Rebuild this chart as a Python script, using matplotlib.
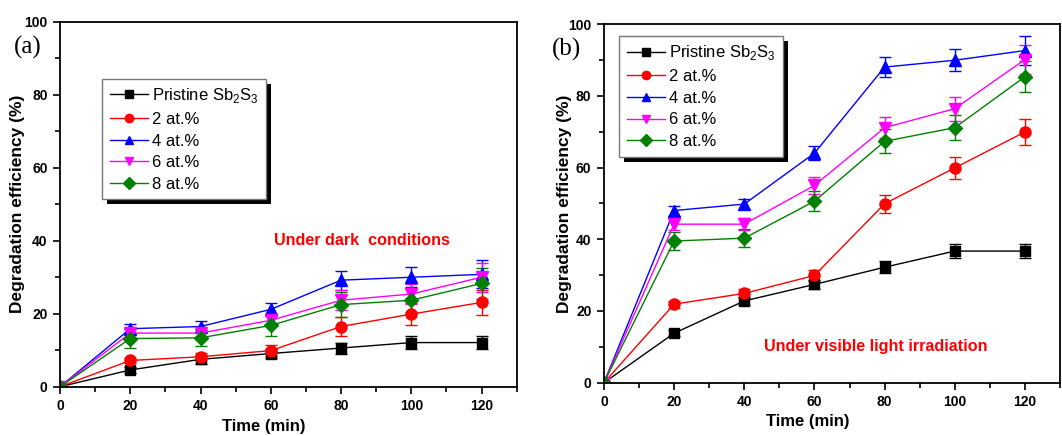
import matplotlib
matplotlib.use("Agg")
import matplotlib.pyplot as plt
from matplotlib.lines import Line2D
from matplotlib.patches import Rectangle
from matplotlib.ticker import MultipleLocator

plt.rcParams['font.family'] = ['Liberation Sans', 'DejaVu Sans']
plt.rcParams['mathtext.fontset'] = 'custom'
plt.rcParams['mathtext.rm'] = 'Liberation Sans'

time_min = [0, 20, 40, 60, 80, 100, 120]
labels = ["Pristine Sb$_\\mathregular{2}$S$_\\mathregular{3}$",
          "2 at.%", "4 at.%", "6 at.%", "8 at.%"]
colors = ["#000000", "#ff0000", "#0000ff", "#ff00ff", "#008000"]
markers = ["s", "o", "^", "v", "D"]
msizes = [7, 8, 8, 8, 7]

# Dark conditions (a)
dark_pristine = [0, 4.6, 7.5, 9.1, 10.6, 12.1, 12.1]
dark_2 = [0, 7.2, 8.2, 9.9, 16.5, 19.9, 23.1]
dark_4 = [0, 15.9, 16.5, 21.2, 29.2, 30.0, 30.8]
dark_6 = [0, 14.7, 14.7, 18.2, 23.7, 25.4, 30.0]
dark_8 = [0, 13.2, 13.4, 16.8, 22.5, 23.7, 28.3]
dark_err_pristine = [0, 0.8, 1.2, 1.3, 1.5, 1.8, 1.8]
dark_err_2 = [0, 0.8, 1.0, 1.5, 2.5, 3.0, 3.5]
dark_err_4 = [0, 1.3, 1.4, 1.8, 2.6, 2.8, 3.8]
dark_err_6 = [0, 1.0, 1.0, 1.5, 2.8, 2.8, 4.0]
dark_err_8 = [0, 2.5, 2.2, 3.0, 3.5, 3.2, 4.3]

# Visible light irradiation (b)
light_pristine = [0, 13.8, 22.8, 27.4, 32.2, 36.7, 36.7]
light_2 = [0, 21.9, 24.9, 29.9, 49.9, 59.9, 69.9]
light_4 = [0, 48.0, 49.8, 64.0, 88.0, 89.9, 92.6]
light_6 = [0, 44.2, 44.2, 55.0, 71.1, 76.4, 90.1]
light_8 = [0, 39.5, 40.3, 50.6, 67.3, 71.1, 85.3]
light_err_pristine = [0, 0.8, 1.0, 1.2, 1.6, 1.9, 1.9]
light_err_2 = [0, 1.0, 1.2, 1.5, 2.5, 3.0, 3.5]
light_err_4 = [0, 1.4, 1.5, 2.0, 2.8, 3.0, 4.0]
light_err_6 = [0, 1.5, 1.6, 2.3, 3.0, 3.3, 4.0]
light_err_8 = [0, 2.5, 2.5, 2.8, 3.3, 3.5, 4.3]

panels = [
    dict(pos=[0.0565, 0.113, 0.430, 0.837], tag="(a)", tag_x=-0.1,
         series=[dark_pristine, dark_2, dark_4, dark_6, dark_8],
         errs=[dark_err_pristine, dark_err_2, dark_err_4, dark_err_6, dark_err_8],
         note="Under dark  conditions", note_xy=(61, 40),
         leg_anchor=(0.092, 0.844), ylab_x=-0.077, xlab_y=-0.088),
    dict(pos=[0.5687, 0.1222, 0.4294, 0.8227], tag="(b)", tag_x=-0.115,
         series=[light_pristine, light_2, light_4, light_6, light_8],
         errs=[light_err_pristine, light_err_2, light_err_4, light_err_6, light_err_8],
         note="Under visible light irradiation", note_xy=(45.5, 10),
         leg_anchor=(0.033, 0.967), ylab_x=-0.071, xlab_y=-0.087),
]

fig = plt.figure(figsize=(10.62, 4.36), dpi=100)
legends = []
for p in panels:
    ax = fig.add_axes(p["pos"])
    for ys, es, c, m, ms in zip(p["series"], p["errs"], colors, markers, msizes):
        ax.errorbar(time_min, ys, yerr=es, color=c, marker=m, markersize=ms,
                    linewidth=1.0, elinewidth=1.0, capsize=4.5, capthick=1.0,
                    ecolor=c)
    ax.set_xlim(0, 130)
    ax.set_ylim(0, 100)
    ax.xaxis.set_major_locator(MultipleLocator(20))
    ax.xaxis.set_minor_locator(MultipleLocator(10))
    ax.yaxis.set_major_locator(MultipleLocator(20))
    ax.yaxis.set_minor_locator(MultipleLocator(10))
    ax.tick_params(which="both", direction="out", top=False, right=False, width=1.2)
    ax.tick_params(which="major", length=5, labelsize=10, pad=4)
    ax.tick_params(which="minor", length=3.5)
    for lbl in ax.get_xticklabels() + ax.get_yticklabels():
        lbl.set_fontweight("bold")
    for sp in ax.spines.values():
        sp.set_linewidth(1.3)
    ax.set_xlabel("Time (min)", fontsize=12, fontweight="bold")
    ax.set_ylabel("Degradation efficiency (%)", fontsize=12.5, fontweight="bold")
    # x label sits centred over the 0-120 data span rather than the full axis
    ax.xaxis.set_label_coords(58 / 130, p["xlab_y"])
    ax.yaxis.set_label_coords(p["ylab_x"], 0.5)
    ax.text(p["tag_x"], 0.93, p["tag"], transform=ax.transAxes, fontsize=18,
            family="Liberation Serif", ha="left", va="center")
    ax.text(p["note_xy"][0], p["note_xy"][1], p["note"], color="#ff0000",
            fontsize=11.6, fontweight="bold", ha="left", va="center")
    handles = [Line2D([], [], color=c, marker=m, markersize=6, linewidth=1.0)
               for c, m in zip(colors, markers)]
    leg = ax.legend(handles, labels, loc="upper left", bbox_to_anchor=p["leg_anchor"],
                    borderaxespad=0, fontsize=12, frameon=True, fancybox=False,
                    framealpha=1, facecolor="white", handlelength=2.3,
                    handletextpad=0.25, labelspacing=0.4, borderpad=0.45)
    leg.get_frame().set_edgecolor("#777777")
    leg.get_frame().set_linewidth(1.0)
    legends.append((ax, leg))

# Solid drop shadow behind each legend box
fig.canvas.draw()
for ax, leg in legends:
    bb = leg.get_frame().get_window_extent()
    off = 5
    x0, y0 = fig.transFigure.inverted().transform((bb.x0 + off, bb.y0 - off))
    x1, y1 = fig.transFigure.inverted().transform((bb.x1 + off, bb.y1 - off))
    ax.add_patch(Rectangle((x0, y0), x1 - x0, y1 - y0, transform=fig.transFigure,
                           facecolor="black", edgecolor="none", zorder=4.9,
                           clip_on=False))

fig.savefig("out.png", dpi=100)
